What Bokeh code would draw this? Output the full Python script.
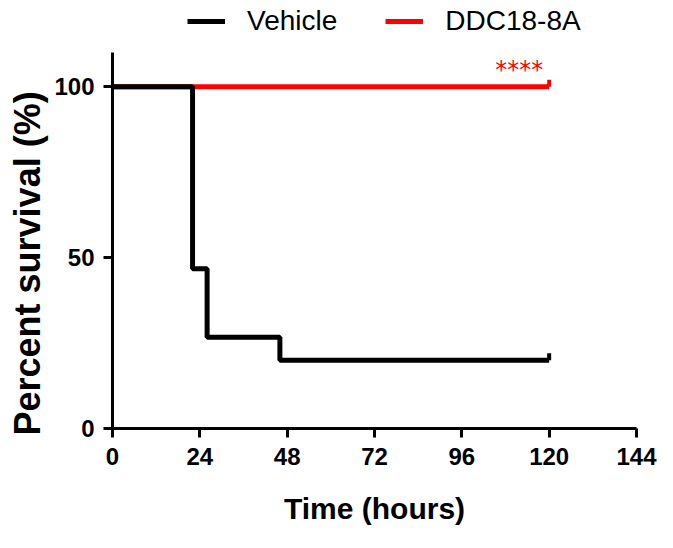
from bokeh.plotting import figure
from bokeh.models import Range1d, FixedTicker, Legend, LegendItem, Title
from bokeh.core.properties import value
from bokeh.embed import file_html
from bokeh.resources import INLINE

# Data (Kaplan-Meier survival curves)
vehicle_time = [0, 22, 26, 46, 120]
vehicle_surv = [100, 46.7, 26.7, 20, 20]
ddc_time = [0, 120]
ddc_surv = [100, 100]
censor_time = 120
x_ticks = [0, 24, 48, 72, 96, 120, 144]
y_ticks = [0, 50, 100]
sig_label = "****"
sig_x = 111.8
sig_y = 105

FONT = "Liberation Sans, Arial, Helvetica, sans-serif"

# frame: 4px top border (room for the legend inside the frame), axis drawn only 0..110
TOP, BOTTOM = 4, 104
H = 532
y_axis_max = 110
frame_h = H - TOP - BOTTOM
y_top = y_axis_max * frame_h / (frame_h - (52 - TOP))

p = figure(width=657, height=H, output_backend="svg", toolbar_location=None,
           x_range=Range1d(0, 144), y_range=Range1d(0, y_top),
           min_border_left=107, min_border_right=21, min_border_top=TOP, min_border_bottom=BOTTOM)
p.outline_line_color = None
p.grid.visible = False
p.background_fill_color = "white"

r_ddc = p.step(ddc_time, ddc_surv, mode="after", line_color="#FF0000", line_width=5)
r_veh = p.step(vehicle_time, vehicle_surv, mode="after", line_color="black", line_width=5)
# censor ticks
p.segment(x0=[censor_time], y0=[ddc_surv[-1]], x1=[censor_time], y1=[ddc_surv[-1] + 2.0],
          line_color="#FF0000", line_width=4)
p.segment(x0=[censor_time], y0=[vehicle_surv[-1]], x1=[censor_time], y1=[vehicle_surv[-1] + 2.0],
          line_color="black", line_width=4)

p.text(x=[sig_x], y=[sig_y], text=[sig_label], text_color="#FF0000",
       text_font=value("DejaVu Sans"), text_font_size="24px",
       text_align="center", text_baseline="alphabetic")

for ax in (p.xaxis[0], p.yaxis[0]):
    ax.axis_line_width = 3
    ax.major_tick_line_width = 3
    ax.major_tick_out = 9
    ax.major_tick_in = 0
    ax.minor_tick_out = 0
    ax.minor_tick_in = 0
    ax.major_label_text_font = FONT
    ax.major_label_text_font_style = "bold"
    ax.major_label_text_font_size = "24px"
    ax.major_label_text_color = "black"
    ax.axis_label_text_font = FONT
    ax.axis_label_text_font_style = "bold"
    ax.axis_label_text_color = "black"

p.yaxis.bounds = (0, y_axis_max)
p.xaxis.ticker = FixedTicker(ticks=x_ticks)
p.yaxis.ticker = FixedTicker(ticks=y_ticks)
p.xaxis.axis_label = "Time (hours)"
p.xaxis.axis_label_text_font_size = "30px"
p.xaxis.major_label_standoff = 10
p.yaxis.major_label_standoff = 9
p.xaxis.axis_label_standoff = 24

ytitle = Title(text="Percent survival (%)", align="left", offset=-7, standoff=8,
               text_font=FONT, text_font_style="bold", text_font_size="36px",
               text_color="black")
p.add_layout(ytitle, "left")

legend = Legend(items=[LegendItem(label="Vehicle", renderers=[r_veh]),
                       LegendItem(label="DDC18-8A", renderers=[r_ddc])],
                orientation="horizontal", location=(75, frame_h - 33),
                glyph_width=38, glyph_height=30, label_height=30,
                label_standoff=22, spacing=48, padding=0, margin=0,
                border_line_color=None, background_fill_alpha=0,
                label_text_font=FONT, label_text_font_size="28px",
                label_text_color="black")
p.add_layout(legend, "center")

open("out.html", "w").write(file_html(p, INLINE))
